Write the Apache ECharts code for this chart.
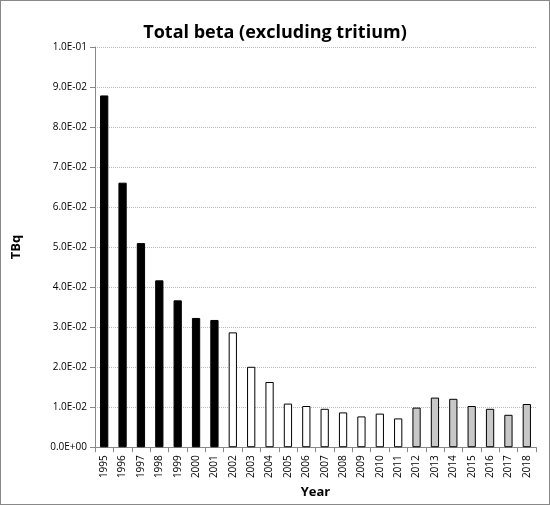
<!DOCTYPE html>
<html>
<head>
<meta charset="utf-8">
<script src="https://cdn.jsdelivr.net/npm/echarts@6/dist/echarts.min.js"></script>
<style>
  body { margin: 0; }
  #chart { width: 548px; height: 503px; border: 1px solid #888; }
</style>
</head>
<body>
<div id="chart"></div>
<script>
var years = ['1995','1996','1997','1998','1999','2000','2001','2002','2003','2004','2005','2006',
    '2007','2008','2009','2010','2011','2012','2013','2014','2015','2016','2017','2018'];
var values = [0.0879, 0.0661, 0.0510, 0.0417, 0.0367, 0.0323, 0.0318, 0.0287, 0.0201, 0.0163, 0.0109, 0.0103,
    0.0096, 0.0087, 0.0077, 0.0084, 0.0072, 0.0099, 0.0124, 0.0121, 0.0103, 0.0096, 0.0081, 0.0108];
// fill colour per period
var fills = years.map(function (y) {
    var n = +y;
    if (n <= 2001) return '#000';
    if (n <= 2011) return '#fff';
    return '#c8c8c8';
});

function fmt(v) {
    var s = v.toExponential(1).toUpperCase();
    return s.replace(/E([+-])(\d)$/, 'E$10$2');
}

var chart = echarts.init(document.getElementById('chart'));
chart.setOption({
    animation: false,
    title: {
        text: 'Total beta (excluding tritium)',
        left: 'center', top: 18,
        textStyle: { fontFamily: 'Open Sans', fontSize: 18, fontWeight: 'bold', color: '#000' }
    },
    grid: { left: 94, right: 13, top: 46, bottom: 52 },
    xAxis: {
        type: 'category',
        data: years,
        name: 'Year', nameLocation: 'middle', nameGap: 38,
        nameTextStyle: { fontFamily: 'Open Sans', fontWeight: 'bold', fontSize: 13, color: '#000' },
        axisLine: { lineStyle: { color: '#888' } },
        axisTick: { show: true, lineStyle: { color: '#888' } },
        axisLabel: { rotate: 90, interval: 0, fontFamily: 'Open Sans', fontSize: 10, color: '#000' }
    },
    yAxis: {
        type: 'value', min: 0, max: 0.1, interval: 0.01,
        name: 'TBq', nameLocation: 'middle', nameGap: 72,
        nameTextStyle: { fontFamily: 'Open Sans', fontWeight: 'bold', fontSize: 13, color: '#000' },
        axisLine: { show: true, lineStyle: { color: '#888' } },
        axisTick: { show: true, lineStyle: { color: '#888' } },
        axisLabel: { formatter: fmt, fontFamily: 'Open Sans', fontSize: 10, color: '#000' },
        splitLine: { lineStyle: { color: '#bbb', type: 'dotted' } }
    },
    series: [{
        type: 'bar',
        barWidth: '45%',
        data: values.map(function (v, i) {
            return { value: v, itemStyle: { color: fills[i], borderColor: '#000', borderWidth: 1 } };
        })
    }]
});
</script>
</body>
</html>
